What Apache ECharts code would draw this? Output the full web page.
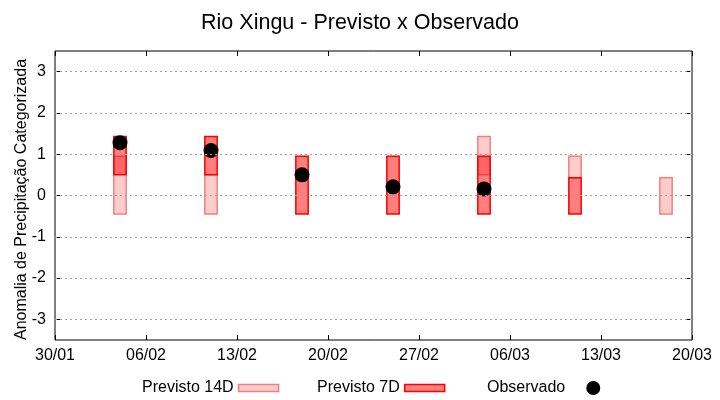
<!DOCTYPE html>
<html>
<head>
<meta charset="utf-8">
<script src="https://cdn.jsdelivr.net/npm/echarts@6/dist/echarts.min.js"></script>
<style>html,body{margin:0;padding:0;background:#fff}#c{width:720px;height:400px}</style>
</head>
<body>
<div id="c"></div>
<script>
// ---- data ----
var startDate = '2025-01-30';
var tickLabels = ['30/01','06/02','13/02','20/02','27/02','06/03','13/03','20/03'];
var yTicks = [-3,-2,-1,0,1,2,3];
var dates = ['2025-02-04','2025-02-11','2025-02-18','2025-02-25','2025-03-04','2025-03-11','2025-03-18'];
var prev14Low  = [-0.45, -0.45, null, null, 0.50, 0.43, -0.45];
var prev14High = [ 0.95,  0.50, null, null, 1.43, 0.95,  0.43];
var prev7Low   = [ 0.50,  0.50, -0.45, -0.45, -0.45, -0.45, null];
var prev7High  = [ 1.43,  1.43,  0.95,  0.95,  0.95,  0.43, null];
var observed   = [ 1.28,  1.09,  0.50,  0.21,  0.16, null, null];

function dayOffset(d){ return Math.round((new Date(d) - new Date(startDate)) / 86400000); }
var days = dates.map(dayOffset);
function rangeData(lo, hi){
  var out = [];
  for (var i = 0; i < days.length; i++) if (lo[i] != null && hi[i] != null) out.push([days[i], lo[i], hi[i]]);
  return out;
}
var obsData = [];
for (var i = 0; i < days.length; i++) if (observed[i] != null) obsData.push([days[i], observed[i]]);

function boxRender(fill, stroke){
  return function(params, api){
    var x = api.value(0), lo = api.value(1), hi = api.value(2);
    var pTop = api.coord([x, hi]), pBot = api.coord([x, lo]);
    var w = api.size([0.95, 0])[0];
    return {
      type: 'rect',
      shape: { x: pTop[0] - w / 2, y: pTop[1], width: w, height: pBot[1] - pTop[1] },
      style: { fill: fill, stroke: stroke, lineWidth: 1.5 }
    };
  };
}

var font = 'Liberation Sans';
var c14Fill = '#FFCCCC', c14Stroke = '#F08080';
var c7Fill = 'rgba(255,0,0,0.5)', c7Stroke = '#FF0000';

var chart = echarts.init(document.getElementById('c'));
chart.setOption({
  animation: false,
  backgroundColor: '#fff',
  textStyle: { fontFamily: font },
  title: {
    text: 'Rio Xingu - Previsto x Observado',
    left: 'center', top: 7,
    textStyle: { fontFamily: font, fontSize: 21.5, fontWeight: 'normal', color: '#000' }
  },
  grid: { left: 55, right: 28, top: 51, bottom: 60, show: true, borderColor: '#000', borderWidth: 1,
    backgroundColor: 'transparent', containLabel: false, outerBoundsMode: 'none' },
  legend: [
    { left: 137, top: 375, align: 'right', itemWidth: 40, itemHeight: 7, selectedMode: false,
      textStyle: { fontFamily: font, fontSize: 16, color: '#000' },
      data: [{ name: 'Previsto 14D', icon: 'rect', itemStyle: { color: c14Fill, borderColor: c14Stroke, borderWidth: 1.5 } }] },
    { left: 312, top: 375, align: 'right', itemWidth: 40, itemHeight: 7, selectedMode: false,
      textStyle: { fontFamily: font, fontSize: 16, color: '#000' },
      data: [{ name: 'Previsto 7D', icon: 'rect', itemStyle: { color: '#FF8080', borderColor: c7Stroke, borderWidth: 1.5 } }] },
    { left: 482, top: 375, align: 'right', itemWidth: 14, itemHeight: 14, selectedMode: false,
      textStyle: { fontFamily: font, fontSize: 16, color: '#000', padding: [0, 16, 0, 0] },
      data: [{ name: 'Observado', icon: 'circle', itemStyle: { color: '#000' } }] }
  ],
  xAxis: [
    { type: 'value', min: 0, max: 49, interval: 7, position: 'bottom',
      axisLine: { show: false, onZero: false },
      axisTick: { inside: true, length: 5, lineStyle: { color: '#000' } },
      axisLabel: { margin: 8, fontSize: 16, color: '#000', fontFamily: font,
        formatter: function(v){ return tickLabels[Math.round(v / 7)]; } },
      splitLine: { show: false } },
    { type: 'value', min: 0, max: 49, interval: 7, position: 'top',
      axisLine: { show: false, onZero: false },
      axisTick: { inside: true, length: 5, lineStyle: { color: '#000' } },
      axisLabel: { show: false }, splitLine: { show: false } }
  ],
  yAxis: [
    { type: 'value', min: -3.5, max: 3.5, position: 'left',
      name: 'Anomalia de Precipitação Categorizada', nameLocation: 'middle', nameGap: 25, nameMoveOverlap: false,
      nameTextStyle: { fontSize: 16, color: '#000', fontFamily: font, padding: [0, 8, 0, 0] },
      axisLine: { show: false, onZero: false },
      axisTick: { inside: true, length: 5, customValues: yTicks, lineStyle: { color: '#000' } },
      axisLabel: { fontSize: 16, color: '#000', fontFamily: font, margin: 9, customValues: yTicks },
      splitLine: { show: false } },
    { type: 'value', min: -3.5, max: 3.5, position: 'right',
      axisLine: { show: false, onZero: false },
      axisTick: { inside: true, length: 5, customValues: yTicks, lineStyle: { color: '#000' } },
      axisLabel: { show: false }, splitLine: { show: false } }
  ],
  series: [
    { type: 'line', name: 'grid', data: [], z: 1, silent: true,
      markLine: { silent: true, symbol: 'none', label: { show: false },
        lineStyle: { color: '#a0a0a0', type: [2, 3], width: 1 },
        data: yTicks.map(function(v){ return { yAxis: v }; }) } },
    { type: 'custom', name: 'Previsto 14D', z: 2, data: rangeData(prev14Low, prev14High),
      itemStyle: { color: c14Fill }, renderItem: boxRender(c14Fill, c14Stroke), encode: { x: 0, y: [1, 2] } },
    { type: 'custom', name: 'Previsto 7D', z: 3, data: rangeData(prev7Low, prev7High),
      itemStyle: { color: '#FF8080' }, renderItem: boxRender(c7Fill, c7Stroke), encode: { x: 0, y: [1, 2] } },
    { type: 'scatter', name: 'Observado', z: 4, data: obsData, symbol: 'circle', symbolSize: 15,
      itemStyle: { color: '#000', opacity: 1 } }
  ]
});
</script>
</body>
</html>
